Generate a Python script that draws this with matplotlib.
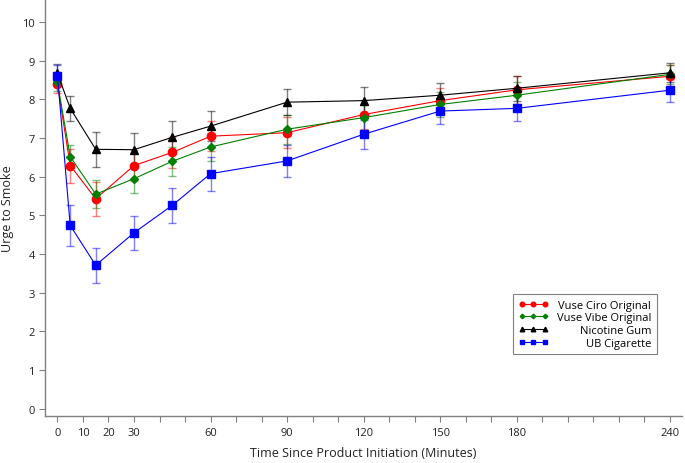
import matplotlib
matplotlib.use("Agg")
import matplotlib.pyplot as plt

plt.rcParams['font.family'] = ['Open Sans', 'DejaVu Sans']

times = [0, 5, 15, 30, 45, 60, 90, 120, 150, 180, 240]

ciro = [8.39, 6.29, 5.43, 6.29, 6.63, 7.05, 7.14, 7.61, 7.97, 8.25, 8.60]
ciro_err = [0.22, 0.44, 0.44, 0.40, 0.40, 0.38, 0.40, 0.38, 0.32, 0.36, 0.28]

vibe = [8.44, 6.52, 5.55, 5.95, 6.40, 6.77, 7.23, 7.53, 7.87, 8.11, 8.65]
vibe_err = [0.22, 0.30, 0.37, 0.38, 0.38, 0.36, 0.38, 0.35, 0.32, 0.35, 0.25]

gum = [8.68, 7.77, 6.71, 6.70, 7.02, 7.31, 7.93, 7.97, 8.11, 8.29, 8.69]
gum_err = [0.24, 0.33, 0.45, 0.42, 0.42, 0.38, 0.34, 0.34, 0.31, 0.33, 0.25]

ub = [8.62, 4.74, 3.71, 4.55, 5.26, 6.08, 6.41, 7.10, 7.70, 7.77, 8.24]
ub_err = [0.28, 0.54, 0.45, 0.44, 0.45, 0.44, 0.42, 0.37, 0.34, 0.33, 0.30]

labels = ["Vuse Ciro Original", "Vuse Vibe Original", "Nicotine Gum", "UB Cigarette"]

xtick_pos = list(range(0, 250, 10))
xtick_labels_shown = {0: "0", 10: "10", 20: "20", 30: "30", 60: "60", 90: "90",
                      120: "120", 150: "150", 180: "180", 240: "240"}
yticks = list(range(0, 11))

fig = plt.figure(figsize=(6.85, 4.64), dpi=100)
ax = fig.add_axes([0.066, 0.1006, 0.929, 0.8994])

series = [
    (ciro, ciro_err, "red", "o", 6.0),
    (vibe, vibe_err, "green", "D", 4.2),
    (gum, gum_err, "black", "^", 6.0),
    (ub, ub_err, "blue", "s", 6.0),
]

handles = []
for (vals, errs, col, mk, ms), lab in zip(series, labels):
    ax.errorbar(times, vals, yerr=errs, fmt='none', ecolor=col, alpha=0.5,
                elinewidth=1.0, capsize=2.8, capthick=1.0, zorder=2)
    h, = ax.plot(times, vals, color=col, marker=mk, markersize=ms,
                 linewidth=0.8, label=lab, zorder=3)
    handles.append(h)

ax.set_xlim(-4.8, 244.6)
ax.set_ylim(-0.2, 10.6)
ax.set_xticks(xtick_pos)
ax.set_xticklabels([xtick_labels_shown.get(t, "") for t in xtick_pos])
ax.set_yticks(yticks)
ax.set_yticklabels([str(v) for v in yticks])

for s in ['top', 'right']:
    ax.spines[s].set_visible(False)
for s in ['left', 'bottom']:
    ax.spines[s].set_color('#808080')
    ax.spines[s].set_linewidth(1.0)
ax.tick_params(axis='both', colors='#808080', labelcolor='#222222',
               labelsize=8, length=4, width=0.8, direction='out')

ax.set_xlabel("Time Since Product Initiation (Minutes)", fontsize=9,
              color='#222222')
ax.xaxis.set_label_coords(0.5, -0.072)
ax.set_ylabel("Urge to Smoke", fontsize=9, color='#222222')
ax.yaxis.set_label_coords(-0.049, 0.5)

leg = ax.legend(handles=handles, labels=labels, loc='lower right',
                bbox_to_anchor=(0.961, 0.149), borderaxespad=0, fontsize=8,
                fancybox=False, edgecolor='#808080', framealpha=1,
                numpoints=3, markerscale=0.55, handlelength=2.6,
                labelspacing=0.15, borderpad=0.5)
leg.get_frame().set_linewidth(0.8)

fig.canvas.draw()
renderer = fig.canvas.get_renderer()
widths = [t.get_window_extent(renderer).width for t in leg.get_texts()]
wmax = max(widths)
for t, w in zip(leg.get_texts(), widths):
    t.set_position((wmax - w, 0))

fig.savefig("out.png", dpi=100)
